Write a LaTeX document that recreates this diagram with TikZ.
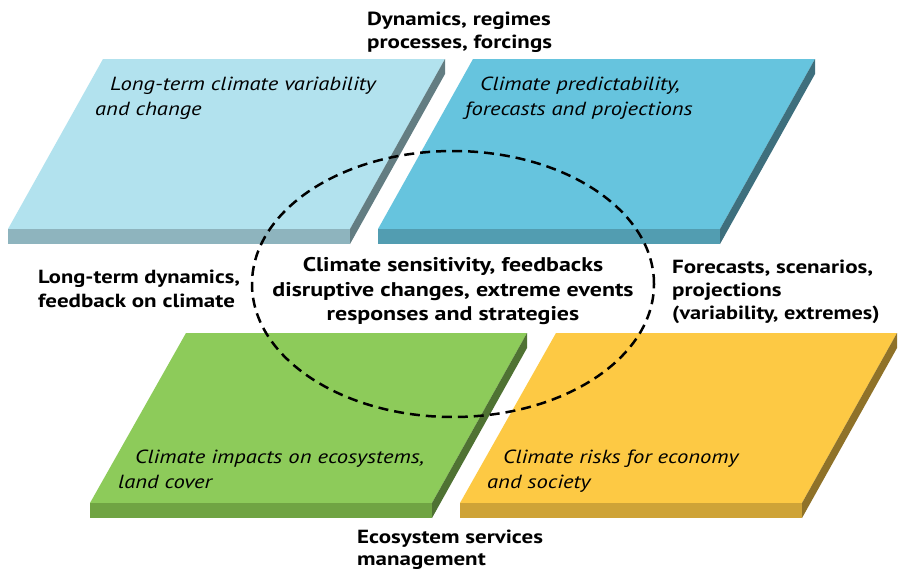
\documentclass[tikz,border=0pt]{standalone}
\usepackage{graphicx}
\usepackage{fontspec}
\setmainfont{PT Sans}
\newfontfamily\labfont{PT Sans}[FakeStretch=1.21]
\newfontfamily\panfont{PT Sans}[FakeStretch=1.19]
\usetikzlibrary{shapes.geometric}
\begin{document}
\begin{tikzpicture}[x=1pt,y=-1pt,
  lab/.style={font=\labfont\fontsize{19}{23}\selectfont\bfseries, inner sep=0pt},
  clab/.style={font=\labfont\fontsize{19.8}{23}\selectfont\bfseries, inner sep=0pt},
  ptext/.style={font=\panfont\fontsize{19}{23}\selectfont\itshape, inner sep=0pt, anchor=base west},
  ring/.style={draw=black, line width=2.5pt, dash pattern=on 10pt off 6pt}]
\definecolor{aTop}{HTML}{B2E2EE}\definecolor{aFr}{HTML}{8EB4BE}\definecolor{aSd}{HTML}{637D82}
\definecolor{bTop}{HTML}{66C4DE}\definecolor{bFr}{HTML}{529DB1}\definecolor{bSd}{HTML}{3E6F7D}
\definecolor{cTop}{HTML}{8DCB5A}\definecolor{cFr}{HTML}{70A443}\definecolor{cSd}{HTML}{4F7233}
\definecolor{dTop}{HTML}{FDC944}\definecolor{dFr}{HTML}{CEA337}\definecolor{dSd}{HTML}{8F7229}
\useasboundingbox[fill=white] (0,0) rectangle (899,573);
% panel 1
\fill[aTop] (103,59) -- (445,59) -- (350,229) -- (8,229) -- cycle;
\fill[aFr] (8,229) -- (350,229) -- (350,244) -- (8,244) -- cycle;
\fill[aSd] (350,229) -- (445,59) -- (445,74) -- (350,244) -- cycle;
% panel 2
\fill[bTop] (473,59) -- (815,59) -- (720,229) -- (378,229) -- cycle;
\fill[bFr] (378,229) -- (720,229) -- (720,244) -- (378,244) -- cycle;
\fill[bSd] (720,229) -- (815,59) -- (815,74) -- (720,244) -- cycle;
% panel 3
\fill[cTop] (186,333) -- (527,333) -- (432,503) -- (90,503) -- cycle;
\fill[cFr] (90,503) -- (432,503) -- (432,518) -- (90,518) -- cycle;
\fill[cSd] (432,503) -- (527,333) -- (527,348) -- (432,518) -- cycle;
% panel 4
\fill[dTop] (556,333) -- (897,333) -- (802,503) -- (460,503) -- cycle;
\fill[dFr] (460,503) -- (802,503) -- (802,518) -- (460,518) -- cycle;
\fill[dSd] (802,503) -- (897,333) -- (897,348) -- (802,518) -- cycle;
% panel texts
\node[ptext] (p1a) at (110,90) {Long-term climate variability};
\node[ptext] (p1b) at (95,115) {and change};
\node[ptext] (p2a) at (480,90) {Climate predictability,};
\node[ptext] (p2b) at (465,115) {forecasts and projections};
\node[ptext] (p3a) at (135,463) {Climate impacts on ecosystems,};
\node[ptext] (p3b) at (118,488) {land cover};
\node[ptext] (p4a) at (503,463) {Climate risks for economy};
\node[ptext] (p4b) at (487,488) {and society};
% ellipse
\node[ring, ellipse, minimum width=402pt, minimum height=266pt, inner sep=0pt] (ring) at (453,284) {};
% labels
\node[lab, anchor=base west] (t1) at (367,25) {Dynamics, regimes};
\node[lab, anchor=base west] (t2) at (367,48) {processes, forcings};
\node[lab, anchor=base west] (l1) at (38,283) {\scalebox{0.98}[1]{Long-term dynamics,}};
\node[lab, anchor=base west] (l2) at (38,307) {feedback on climate};
\node[lab, anchor=base west] (r1) at (672,273) {Forecasts, scenarios,};
\node[lab, anchor=base west] (r2) at (672,296) {projections};
\node[lab, anchor=base west] (r3) at (672,319) {\scalebox{0.97}[1]{(variability, extremes)}};
\node[clab, anchor=base] (c1) at (453,271) {Climate sensitivity, feedbacks};
\node[clab, anchor=base] (c2) at (453,296) {disruptive changes, extreme events};
\node[clab, anchor=base] (c3) at (453,320) {responses and strategies};
\node[lab, anchor=base west] (b1) at (357,543) {Ecosystem services};
\node[lab, anchor=base west] (b2) at (357,565) {management};
\end{tikzpicture}
\end{document}
